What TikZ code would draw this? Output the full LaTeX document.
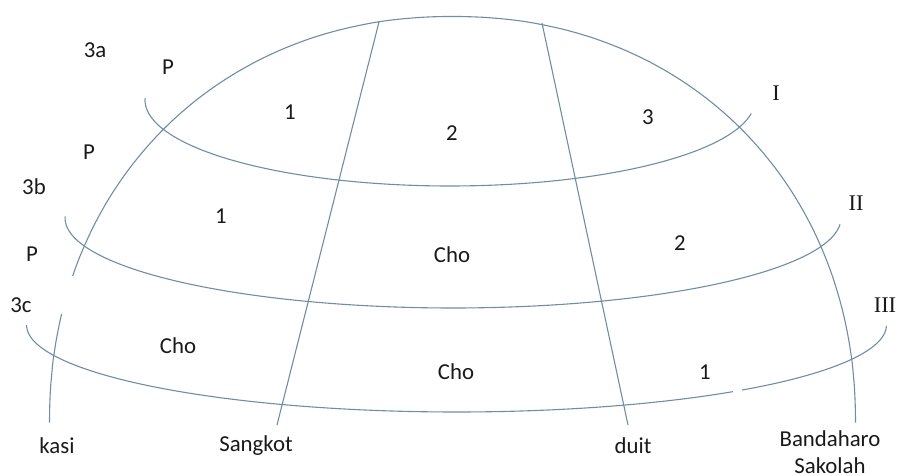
\documentclass[tikz,border=0pt]{standalone}
\usepackage{fontspec}
\setmainfont{Carlito}
\newfontfamily\romfont{Liberation Serif}
\definecolor{ln}{RGB}{110,142,165}
\begin{document}
\begin{tikzpicture}[x=0.5pt,y=-0.5pt,
  lbl/.style={font=\fontsize{11.4}{13.5}\selectfont, inner sep=0pt, text=black!90},
  rom/.style={font=\romfont\fontsize{11.2}{13}\selectfont, inner sep=0pt, text=black!90},
  curve/.style={draw=ln, line width=0.55pt},
  gap/.style={fill=white, draw=none}]
\useasboundingbox (0,0) rectangle (899,476);
% named end points of the meridians
\coordinate (kasiBot) at (50,423);
\coordinate (bandBot) at (855,423);
\coordinate (sgTop) at (379,22);
\coordinate (sgBot) at (277,425);
\coordinate (duTop) at (542,23);
\coordinate (duBot) at (628,425);
% outer dome (kasi ... Bandaharo Sakolah)
\draw[curve] plot[domain=0.1:179.9, samples=120, smooth]
  ({452.5+403*sign(cos(\x))*abs(cos(\x))^0.948}, {423.5-407*abs(sin(\x))^0.948});
% inner meridians
\draw[curve] (sgTop) -- (sgBot);
\draw[curve] (duTop) -- (duBot);
% parallels I, II, III
\draw[curve] plot[domain=9:181.3, samples=80, smooth] ({450+305*cos(\x)}, {100+86*sin(\x)});
\draw[curve] plot[domain=4:181, samples=80, smooth] ({453+388*cos(\x)}, {218+90*sin(\x)});
\draw[curve] plot[domain=0.5:180, samples=80, smooth] ({456.5+430*cos(\x)}, {325+87*sin(\x)});
% small breaks in the lines
\fill[gap] (51,276) rectangle (75,314);
\fill[gap] (733,383) rectangle (742,398);
% labels
\node[lbl] (l3a) at (95,50) {3a};
\node[lbl] (p1) at (168,67) {P};
\node[lbl] (a1) at (290,112) {1};
\node[lbl] (a2) at (452,133) {2};
\node[lbl] (a3) at (648,117) {3};
\node[rom] (rI) at (776,93) {I};
\node[lbl] (p2) at (89,152) {P};
\node[lbl] (l3b) at (34,187) {3b};
\node[lbl] (b1) at (221,216) {1};
\node[rom] (rII) at (856,203) {II};
\node[lbl] (bcho) at (452,255) {Cho};
\node[lbl] (b2) at (680,243) {2};
\node[lbl] (p3) at (32,254) {P};
\node[lbl] (l3c) at (21,305) {3c};
\node[rom] (rIII) at (885,305) {III};
\node[lbl] (c1cho) at (178,346) {Cho};
\node[lbl] (c2cho) at (456,372) {Cho};
\node[lbl] (c1) at (705,372) {1};
\node[lbl] (kasi) at (57,446) {kasi};
\node[lbl] (sangkot) at (256,446) {Sangkot};
\node[lbl] (duit) at (633,446) {duit};
\node[lbl, align=center] (band) at (830,452) {Bandaharo\\Sakolah};
\end{tikzpicture}
\end{document}
